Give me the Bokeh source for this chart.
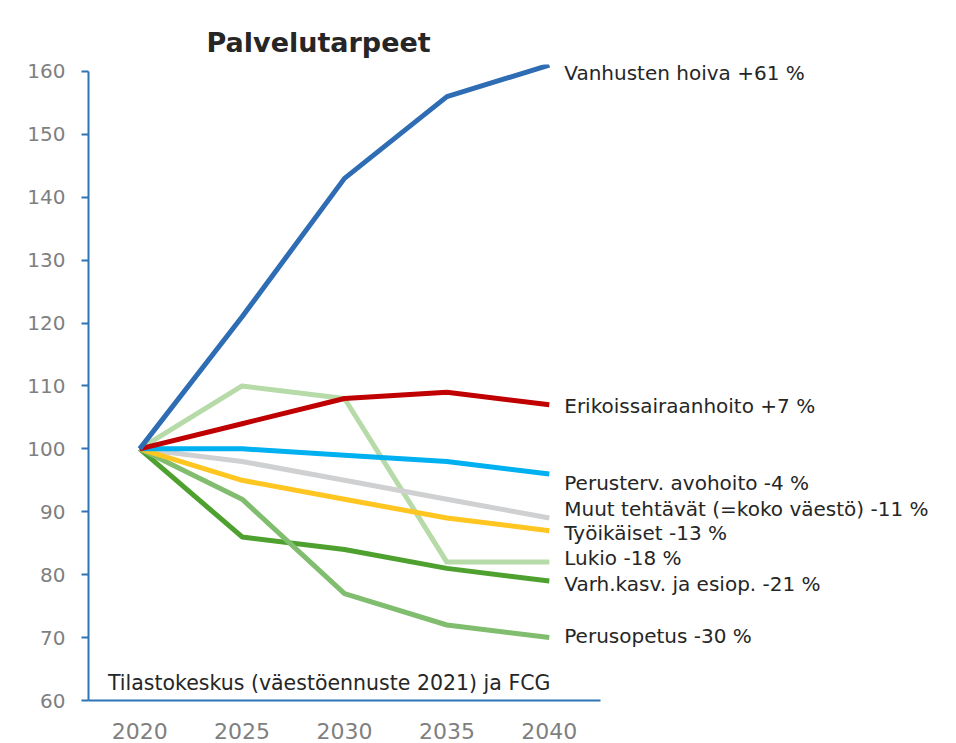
from bokeh.plotting import figure
from bokeh.models import Range1d, Label, FixedTicker
from bokeh.embed import file_html
from bokeh.resources import INLINE

years = [2020, 2025, 2030, 2035, 2040]
series_names = [
    "Vanhusten hoiva +61 %",
    "Erikoissairaanhoito +7 %",
    "Perusterv. avohoito -4 %",
    "Muut tehtävät (=koko väestö) -11 %",
    "Työikäiset -13 %",
    "Lukio -18 %",
    "Varh.kasv. ja esiop. -21 %",
    "Perusopetus -30 %",
]
vanhusten = [100, 121, 143, 156, 161]
erikois = [100, 104, 108, 109, 107]
perusterv = [100, 100, 99, 98, 96]
muut = [100, 98, 95, 92, 89]
tyoikaiset = [100, 95, 92, 89, 87]
lukio = [100, 110, 108, 82, 82]
varhkasv = [100, 86, 84, 81, 79]
perusopetus = [100, 92, 77, 72, 70]
series_values = [vanhusten, erikois, perusterv, muut, tyoikaiset, lukio, varhkasv, perusopetus]
colors = ["#2E6DB4", "#C00000", "#00B0F0", "#CFD0D1", "#FFC520", "#B7DBA8", "#4EA02F", "#80BD6E"]
# label vertical placement (layout, in value units)
label_y = [159.7, 106.8, 94.5, 90.5, 86.7, 82.6, 78.5, 70.2]
y_ticks = [60, 70, 80, 90, 100, 110, 120, 130, 140, 150, 160]

FONT = "DejaVu Sans"
AXIS_COLOR = "#2E75B6"
TXT = "#262626"

# layout
W, H = 950, 742
LEFT, RIGHT, TOP, BOTTOM = 88, 10, 64, 42
X0, X1_AXIS = 2017.5, 2042.5
AXIS_W = 512  # px width of the axis span
Y0, Y1_AXIS, Y1 = 60, 160, 161.1
frame_w = W - LEFT - RIGHT
X1 = X0 + (X1_AXIS - X0) * frame_w / AXIS_W

p = figure(width=W, height=H, output_backend="svg", toolbar_location=None,
           x_range=Range1d(X0, X1), y_range=Range1d(Y0, Y1),
           min_border_left=LEFT, min_border_right=RIGHT, min_border_top=TOP,
           min_border_bottom=BOTTOM)
p.outline_line_color = None
p.xgrid.visible = False
p.ygrid.visible = False

p.title.text = "Palvelutarpeet"
p.title.text_font = FONT
p.title.text_font_size = "27px"
p.title.text_font_style = "bold"
p.title.text_color = TXT
p.title.align = "left"
p.title.offset = 118
p.title.vertical_align = "top"

order = [5, 3, 6, 7, 4, 2, 1, 0]
for i in order:
    p.line(years, series_values[i], line_color=colors[i], line_width=5, line_join="round")

p.xaxis.ticker = FixedTicker(ticks=years)
p.yaxis.ticker = FixedTicker(ticks=y_ticks)
p.xaxis.bounds = (X0, X1_AXIS)
p.yaxis.bounds = (Y0, Y1_AXIS)
for ax in (p.xaxis[0], p.yaxis[0]):
    ax.axis_line_color = AXIS_COLOR
    ax.axis_line_width = 2
    ax.major_label_text_color = "#7F7F7F"
    ax.major_label_text_font = FONT
    ax.minor_tick_line_color = None
p.yaxis.major_label_text_font_size = "20px"
p.xaxis.major_label_text_font_size = "22px"
p.xaxis.major_tick_line_color = None
p.xaxis.major_label_standoff = 16
p.yaxis.major_tick_line_color = AXIS_COLOR
p.yaxis.major_tick_line_width = 2
p.yaxis.major_tick_out = 7
p.yaxis.major_tick_in = 0
p.yaxis.major_label_standoff = 16

label_x = X1_AXIS - 1.77
for name, ly in zip(series_names, label_y):
    p.add_layout(Label(x=label_x, y=ly, text=name, text_font=FONT, text_font_size="20px",
                       text_color=TXT, text_baseline="middle", text_align="left"))

p.add_layout(Label(x=2018.45, y=62.8, text="Tilastokeskus (väestöennuste 2021) ja FCG",
                   text_font=FONT, text_font_size="20.5px", text_color=TXT,
                   text_baseline="middle", text_align="left"))

open("out.html", "w").write(file_html(p, INLINE))
